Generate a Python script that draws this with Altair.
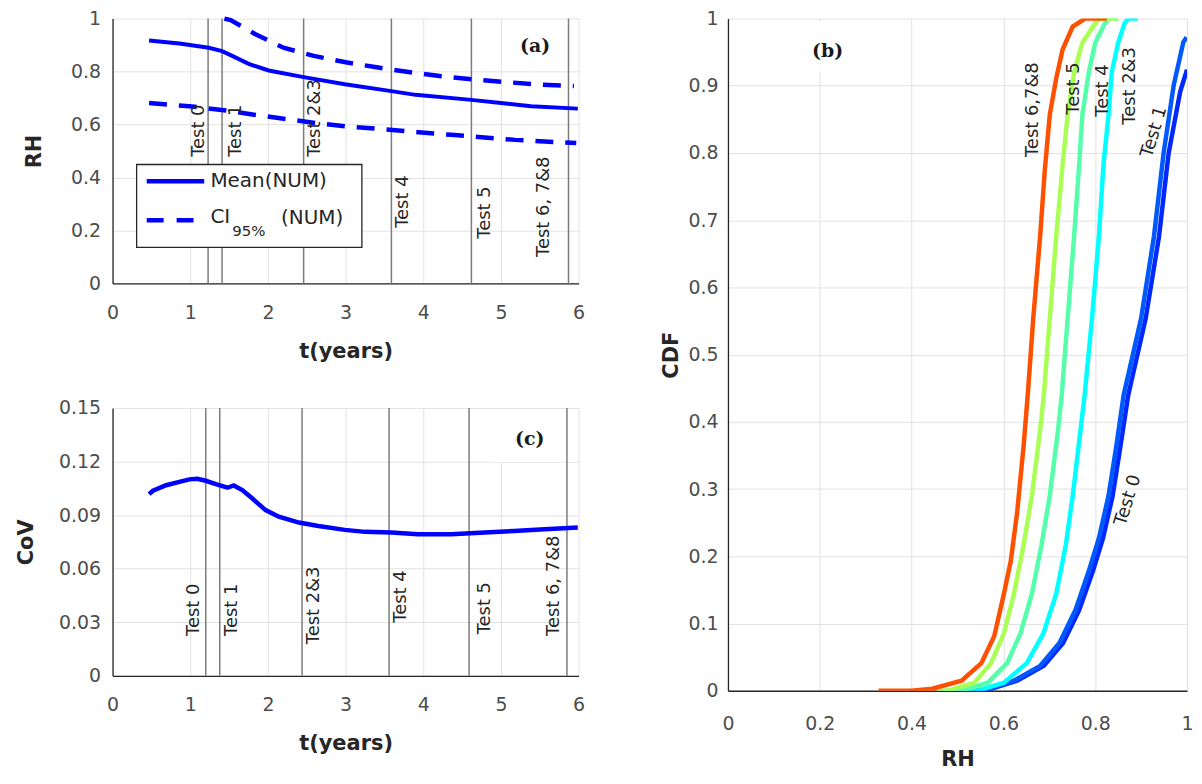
import altair as alt
import pandas as pd

# ------------------------------------------------------------------ data
# (a) RH versus time
mean_t = [0.47, 0.86, 1.24, 1.41, 1.54, 1.76, 2.01, 2.46, 2.99, 3.59, 3.90, 4.62, 5.00, 5.39, 5.99]
mean_rh = [0.917, 0.906, 0.890, 0.877, 0.859, 0.828, 0.804, 0.779, 0.752, 0.726, 0.712, 0.693, 0.681, 0.669, 0.660]
ci_up_t = [1.44, 1.52, 1.84, 2.20, 2.59, 3.02, 3.40, 3.81, 4.21, 4.62, 5.03, 5.43, 5.94]
ci_up_rh = [1.0, 0.994, 0.941, 0.890, 0.859, 0.834, 0.816, 0.798, 0.783, 0.771, 0.761, 0.752, 0.745]
ci_lo_t = [0.47, 0.99, 1.46, 1.80, 2.25, 2.65, 3.08, 3.51, 3.94, 4.36, 4.75, 5.18, 5.56, 5.97]
ci_lo_rh = [0.681, 0.669, 0.653, 0.638, 0.620, 0.604, 0.591, 0.582, 0.571, 0.561, 0.552, 0.542, 0.536, 0.530]

# test instants (vertical lines) and their labels
test_names_ac = ["Test 0", "Test 1", "Test 2&3", "Test 4", "Test 5", "Test 6, 7&8"]
a_test_t = [1.23, 1.41, 2.46, 3.59, 4.62, 5.87]
a_label_t = [1.115, 1.585, 2.61, 3.74, 4.80, 5.56]
a_label_rh = [0.478, 0.478, 0.478, 0.21, 0.169, 0.10]

c_test_t = [1.20, 1.38, 2.44, 3.56, 4.59, 5.85]
c_label_t = [1.05, 1.54, 2.59, 3.72, 4.79, 5.69]
c_label_cov = [0.0223, 0.0223, 0.0177, 0.0297, 0.0232, 0.0223]

# (c) coefficient of variation versus time
cov_t = [0.47, 0.52, 0.69, 0.86, 0.99, 1.09, 1.20, 1.33, 1.48, 1.56, 1.67, 1.80, 1.97,
         2.14, 2.40, 2.65, 2.99, 3.25, 3.59, 3.93, 4.36, 4.79, 5.17, 5.56, 5.99]
cov_v = [0.1017, 0.1036, 0.1067, 0.1086, 0.1100, 0.1103, 0.1092, 0.1073, 0.1053, 0.1066, 0.1040,
         0.0993, 0.0928, 0.0891, 0.0858, 0.0839, 0.0817, 0.0806, 0.0802, 0.0793, 0.0793,
         0.0802, 0.0811, 0.0821, 0.0830]

# (b) CDF of RH for each test
cdf_names = ["Test 0", "Test 1", "Test 2&3", "Test 4", "Test 5", "Test 6,7&8"]
cdf_colors = ["#0028ff", "#0058ff", "#00ffff", "#55ffaa", "#aaff55", "#ff5000"]
rh_t0 = [0.53, 0.56, 0.63, 0.688, 0.73, 0.765, 0.795, 0.817, 0.838, 0.855, 0.872, 0.91, 0.939, 0.96, 0.985, 1.0]
cdf_t0 = [0, 0, 0.015, 0.037, 0.071, 0.12, 0.178, 0.227, 0.29, 0.364, 0.44, 0.554, 0.676, 0.80, 0.891, 0.924]
rh_t1 = [0.52, 0.552, 0.623, 0.68, 0.722, 0.757, 0.786, 0.808, 0.829, 0.846, 0.862, 0.90, 0.928, 0.949, 0.971, 0.992, 0.999]
cdf_t1 = [0, 0, 0.015, 0.037, 0.071, 0.12, 0.178, 0.227, 0.29, 0.364, 0.44, 0.554, 0.676, 0.80, 0.901, 0.965, 0.972]
rh_t23 = [0.49, 0.544, 0.601, 0.651, 0.687, 0.715, 0.736, 0.751, 0.768, 0.777, 0.793, 0.808, 0.818, 0.829, 0.836, 0.85, 0.864, 0.872, 0.893]
cdf_t23 = [0, 0, 0.012, 0.041, 0.085, 0.144, 0.217, 0.29, 0.388, 0.44, 0.554, 0.676, 0.783, 0.857, 0.92, 0.964, 0.993, 1.0, 1.0]
rh_t4 = [0.47, 0.509, 0.566, 0.608, 0.637, 0.662, 0.683, 0.701, 0.719, 0.727, 0.740, 0.754, 0.765, 0.772, 0.786, 0.800, 0.821, 0.83, 0.85]
cdf_t4 = [0, 0, 0.012, 0.041, 0.085, 0.144, 0.217, 0.29, 0.388, 0.44, 0.554, 0.676, 0.783, 0.857, 0.92, 0.964, 0.993, 1.0, 1.0]
rh_t5 = [0.455, 0.48, 0.537, 0.573, 0.601, 0.623, 0.644, 0.662, 0.680, 0.688, 0.701, 0.715, 0.729, 0.740, 0.754, 0.772, 0.800, 0.81, 0.85]
cdf_t5 = [0, 0, 0.012, 0.041, 0.085, 0.144, 0.217, 0.29, 0.388, 0.44, 0.554, 0.676, 0.783, 0.857, 0.92, 0.964, 0.993, 1.0, 1.0]
rh_t678 = [0.328, 0.40, 0.445, 0.509, 0.552, 0.580, 0.601, 0.616, 0.630, 0.644, 0.653, 0.665, 0.680, 0.690, 0.701, 0.715, 0.729, 0.751, 0.778, 0.825]
cdf_t678 = [0, 0, 0.003, 0.015, 0.041, 0.081, 0.144, 0.193, 0.266, 0.364, 0.44, 0.554, 0.676, 0.773, 0.857, 0.911, 0.954, 0.988, 1.0, 1.0]
b_label_rh = [0.855, 0.912, 0.876, 0.816, 0.754, 0.665]
b_label_cdf = [0.246, 0.794, 0.842, 0.854, 0.857, 0.794]
b_label_angle = [287, 287, 270, 270, 270, 270]

# legend entries of panel (a)
legend_names = ["Mean(NUM)", "CI", "95%", "(NUM)"]

# ------------------------------------------------------------------ style
FONT = "DejaVu Sans"
TXT = "#262626"
BLUE = "#0000ff"
TESTLINE = "#7c7c7c"

A_W, A_H, C_H = 468, 266, 269
B_W, B_H = 461, 675


def xy(xs, ys, **extra):
    d = pd.DataFrame({"x": xs, "y": ys})
    for k, v in extra.items():
        d[k] = v
    return d


# ------------------------------------------------------------------ panel (a)
sx_a = alt.Scale(domain=[0, 6], nice=False, zero=False)
sy_a = alt.Scale(domain=[0, 1], nice=False, zero=False)
ax_a_x = alt.Axis(values=[0, 1, 2, 3, 4, 5, 6], title="t(years)", labelFlush=False,
                  labelPadding=20, titlePadding=18)
ax_a_y = alt.Axis(values=[0, 0.2, 0.4, 0.6, 0.8, 1], title="RH", format="~g",
                  labelPadding=12, titlePadding=26)


def enc_a(ch):
    return ch.encode(x=alt.X("x:Q", scale=sx_a, axis=ax_a_x),
                     y=alt.Y("y:Q", scale=sy_a, axis=ax_a_y))


a_rules = alt.Chart(pd.DataFrame({"x": a_test_t, "y": 0.0, "y2": 1.0})).mark_rule(
    color=TESTLINE, strokeWidth=1.5).encode(
    x=alt.X("x:Q", scale=sx_a, axis=ax_a_x),
    y=alt.Y("y:Q", scale=sy_a, axis=ax_a_y), y2="y2:Q")
a_mean = enc_a(alt.Chart(xy(mean_t, mean_rh)).mark_line(color=BLUE, strokeWidth=4))
ci_df = pd.concat([xy(ci_up_t, ci_up_rh, s="up"), xy(ci_lo_t, ci_lo_rh, s="lo")])
a_ci = enc_a(alt.Chart(ci_df).mark_line(color=BLUE, strokeWidth=4.5, strokeDash=[18, 12])).encode(
    detail="s:N")
a_lab = enc_a(alt.Chart(xy(a_label_t, a_label_rh, name=test_names_ac)).mark_text(
    angle=270, align="left", baseline="middle", font=FONT, fontSize=18, color=TXT)).encode(
    text="name:N")
a_tag = enc_a(alt.Chart(xy([5.44], [0.897], name=["(a)"])).mark_text(
    font="DejaVu Serif", fontWeight="bold", fontSize=19, color="#1a1a1a")).encode(text="name:N")

# legend (drawn on top)
leg_box = alt.Chart(pd.DataFrame({"x": [0.31], "x2": [3.21], "y": [0.136], "y2": [0.449]})).mark_rect(
    fill="white", stroke=TXT, strokeWidth=1.3).encode(
    x=alt.X("x:Q", scale=sx_a, axis=ax_a_x), x2="x2:Q",
    y=alt.Y("y:Q", scale=sy_a, axis=ax_a_y), y2="y2:Q")
leg_solid = enc_a(alt.Chart(xy([0.44, 1.18], [0.386, 0.386])).mark_line(color=BLUE, strokeWidth=4.5))
leg_dash = enc_a(alt.Chart(xy([0.44, 1.18], [0.239, 0.239])).mark_line(
    color=BLUE, strokeWidth=4.5, strokeDash=[17, 13]))
leg_txt_big = enc_a(alt.Chart(xy([1.26, 1.26, 2.17], [0.386, 0.25, 0.246],
                                 name=[legend_names[0], legend_names[1], legend_names[3]])).mark_text(
    align="left", baseline="middle", font=FONT, fontSize=20, color=TXT)).encode(text="name:N")
leg_txt_sub = enc_a(alt.Chart(xy([1.54], [0.197], name=[legend_names[2]])).mark_text(
    align="left", baseline="middle", font=FONT, fontSize=15, color=TXT)).encode(text="name:N")

panel_a = alt.layer(a_rules, a_mean, a_ci, a_lab, a_tag, leg_box, leg_solid, leg_dash,
                    leg_txt_big, leg_txt_sub).properties(width=A_W, height=A_H)

# ------------------------------------------------------------------ panel (c)
sy_c = alt.Scale(domain=[0, 0.15], nice=False, zero=False)
ax_c_y = alt.Axis(values=[0, 0.03, 0.06, 0.09, 0.12, 0.15], title="CoV", format="~g",
                  labelPadding=12, titlePadding=22)


def enc_c(ch):
    return ch.encode(x=alt.X("x:Q", scale=sx_a, axis=ax_a_x),
                     y=alt.Y("y:Q", scale=sy_c, axis=ax_c_y))


c_box = alt.Chart(pd.DataFrame({"x": [4.87], "x2": [5.97], "y": [0.1197], "y2": [0.1492]})).mark_rect(
    fill="white").encode(x=alt.X("x:Q", scale=sx_a, axis=ax_a_x), x2="x2:Q",
                         y=alt.Y("y:Q", scale=sy_c, axis=ax_c_y), y2="y2:Q")
c_rules = alt.Chart(pd.DataFrame({"x": c_test_t, "y": 0.0, "y2": 0.15})).mark_rule(
    color=TESTLINE, strokeWidth=1.5).encode(
    x=alt.X("x:Q", scale=sx_a, axis=ax_a_x),
    y=alt.Y("y:Q", scale=sy_c, axis=ax_c_y), y2="y2:Q")
c_line = enc_c(alt.Chart(xy(cov_t, cov_v)).mark_line(color=BLUE, strokeWidth=4.5))
c_lab = enc_c(alt.Chart(xy(c_label_t, c_label_cov, name=test_names_ac)).mark_text(
    angle=270, align="left", baseline="middle", font=FONT, fontSize=18, color=TXT)).encode(
    text="name:N")
c_tag = enc_c(alt.Chart(xy([5.37], [0.1327], name=["(c)"])).mark_text(
    font="DejaVu Serif", fontWeight="bold", fontSize=19, color="#1a1a1a")).encode(text="name:N")

panel_c = alt.layer(c_box, c_rules, c_line, c_lab, c_tag).properties(width=A_W, height=C_H)

# ------------------------------------------------------------------ panel (b)
sx_b = alt.Scale(domain=[0, 1], nice=False, zero=False)
sy_b = alt.Scale(domain=[0, 1], nice=False, zero=False)
ax_b_x = alt.Axis(values=[0, 0.2, 0.4, 0.6, 0.8, 1], title="RH", format="~g", labelFlush=False,
                  labelPadding=24, titlePadding=15)
ax_b_y = alt.Axis(values=[0, 0.1, 0.2, 0.3, 0.4, 0.5, 0.6, 0.7, 0.8, 0.9, 1], title="CDF",
                  format="~g", labelPadding=10, titlePadding=6)


def enc_b(ch):
    return ch.encode(x=alt.X("x:Q", scale=sx_b, axis=ax_b_x),
                     y=alt.Y("y:Q", scale=sy_b, axis=ax_b_y))


b_box = alt.Chart(pd.DataFrame({"x": [0.15], "x2": [0.29], "y": [0.922], "y2": [0.995]})).mark_rect(
    fill="white").encode(x=alt.X("x:Q", scale=sx_b, axis=ax_b_x), x2="x2:Q",
                         y=alt.Y("y:Q", scale=sy_b, axis=ax_b_y), y2="y2:Q")
curves = [(rh_t0, cdf_t0), (rh_t1, cdf_t1), (rh_t23, cdf_t23),
          (rh_t4, cdf_t4), (rh_t5, cdf_t5), (rh_t678, cdf_t678)]
b_lines = [enc_b(alt.Chart(xy(r, c)).mark_line(color=col, strokeWidth=4.5, clip=True))
           for (r, c), col in zip(curves, cdf_colors)]
b_labs = [enc_b(alt.Chart(xy([lx], [ly], name=[nm])).mark_text(
    angle=ang, align="left", baseline="middle", font=FONT, fontSize=18, color=TXT)).encode(
    text="name:N")
    for lx, ly, nm, ang in zip(b_label_rh, b_label_cdf, cdf_names, b_label_angle)]
b_tag = enc_b(alt.Chart(xy([0.217], [0.952], name=["(b)"])).mark_text(
    font="DejaVu Serif", fontWeight="bold", fontSize=19, color="#1a1a1a")).encode(text="name:N")

panel_b = alt.layer(b_box, *b_lines, *b_labs, b_tag).properties(width=B_W, height=B_H)

# ------------------------------------------------------------------ layout
left = alt.vconcat(panel_a, panel_c, spacing=38)
chart = alt.hconcat(left, panel_b, spacing=73).properties(
    padding={"left": 7, "top": 0, "right": 0, "bottom": 0})
chart = chart.configure_view(stroke=None).configure_axis(
    grid=True, gridColor="#e2e2e2", gridWidth=1, ticks=False,
    domainColor=TXT, domainWidth=1.3, labelOverlap=False,
    labelFont=FONT, labelFontSize=19, labelColor="#4d4d4d",
    titleFont=FONT, titleFontSize=21, titleFontWeight="bold", titleColor=TXT)

chart.save("out.html", embed_options={"renderer": "svg", "actions": False})
